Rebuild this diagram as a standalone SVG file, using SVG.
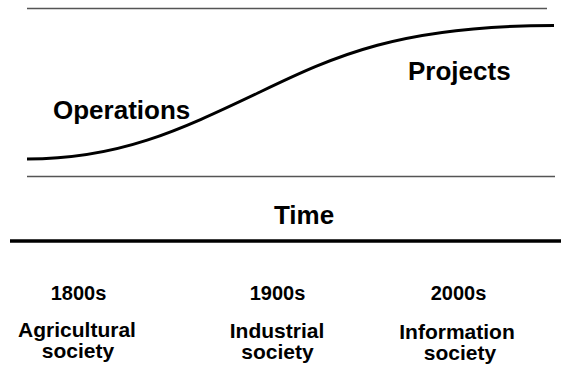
<svg xmlns="http://www.w3.org/2000/svg" width="561" height="372" viewBox="0 0 561 372">
<style>
.thin{stroke:#555;stroke-width:1.4;fill:none}
.thick{stroke:#000;stroke-width:3.5;fill:none}
.curve{stroke:#000;stroke-width:3;fill:none}
text{font-family:"Liberation Sans",Arial,Helvetica,sans-serif;font-weight:bold;fill:#000}
.big{font-size:26px}
.yr{font-size:20px;text-anchor:middle}
.lbl{font-size:21px;text-anchor:middle}
</style>
<rect width="561" height="372" fill="#fff"/>
<g id="connectors">
<line class="thin" x1="27" y1="8.5" x2="547" y2="8.5"/>
<line class="thin" x1="27" y1="176.5" x2="555" y2="176.5"/>
<path class="curve" d="M27,159 C120,159 180,130 260,92 C335,56 400,25.5 554,25.5"/>
<line class="thick" x1="10" y1="241" x2="561" y2="241"/>
</g>
<g id="operations"><text class="big" x="53" y="119">Operations</text></g>
<g id="projects"><text class="big" x="408" y="80">Projects</text></g>
<g id="time"><text class="big" x="304" y="224" text-anchor="middle">Time</text></g>
<g id="era1800">
<text class="yr" x="78.5" y="300">1800s</text>
<text class="lbl" x="77" y="337">Agricultural</text>
<text class="lbl" x="78" y="358">society</text>
</g>
<g id="era1900">
<text class="yr" x="277.5" y="300">1900s</text>
<text class="lbl" x="277" y="338">Industrial</text>
<text class="lbl" x="277.5" y="359">society</text>
</g>
<g id="era2000">
<text class="yr" x="458.5" y="300">2000s</text>
<text class="lbl" x="457" y="339">Information</text>
<text class="lbl" x="460" y="360">society</text>
</g>
</svg>
